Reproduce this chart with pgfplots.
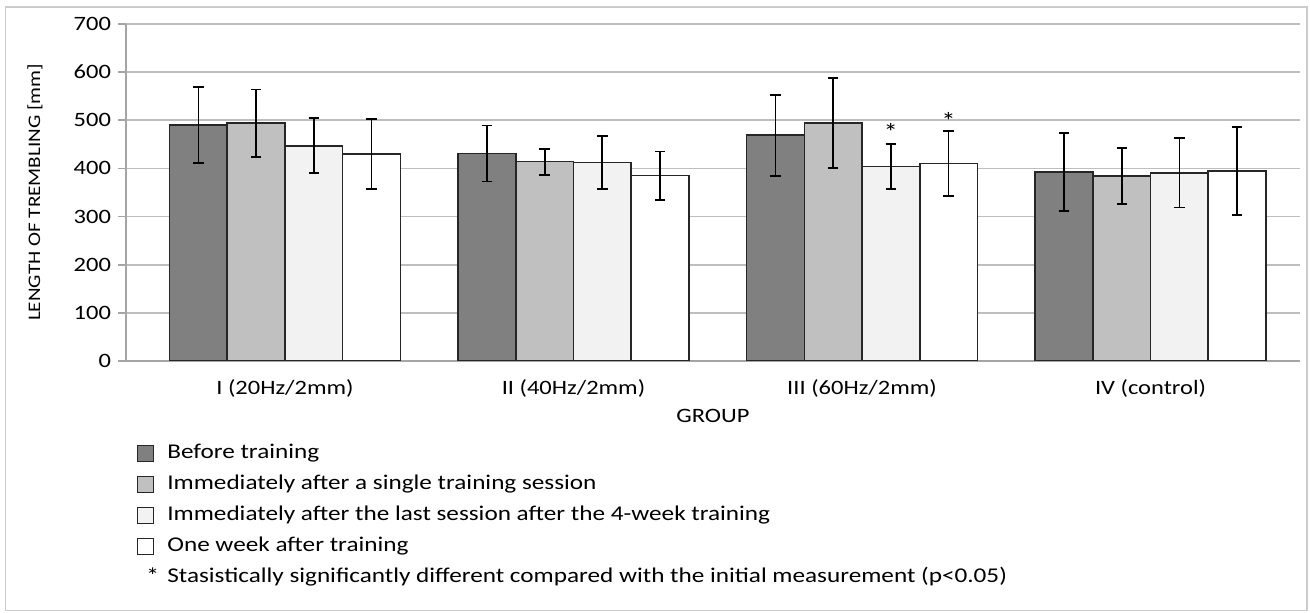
\documentclass[border=0pt]{standalone}
\usepackage{fontspec}
\setmainfont{Carlito}[FakeStretch=1.2]
\usepackage{pgfplots}
\pgfplotsset{compat=1.18}
\definecolor{cA}{RGB}{128,128,128}
\definecolor{cB}{RGB}{192,192,192}
\definecolor{cC}{RGB}{242,242,242}
\definecolor{cD}{RGB}{255,255,255}
\definecolor{gridc}{RGB}{190,190,190}
\definecolor{axc}{RGB}{165,165,165}
\pgfplotsset{
  mybar/.style={ybar, bar width=0.2, bar shift=0, fill=#1, draw=black!85, line width=0.8pt,
    legend image code/.code={\draw[##1, line width=0.7pt] (0pt,-4pt) rectangle (8pt,4pt);},
    error bars/y dir=both, error bars/y explicit,
    error bars/error bar style={black, line width=0.9pt},
    error bars/error mark options={black, line width=0.9pt, mark size=2.6pt, rotate=90}},
}
\begin{document}
\begin{tikzpicture}[x=1pt,y=1pt]
\path[use as bounding box] (0,0) rectangle (655,306.5);
\draw[gray!40, line width=0.7pt] (2.8,1.2) rectangle (653.5,303);
\begin{axis}[
  at={(63pt,126pt)}, anchor=south west, scale only axis,
  width=587pt, height=168.5pt,
  xmin=-0.551, xmax=3.518, ymin=0, ymax=700,
  ytick={0,100,...,700},
  xtick={0,1,2,3},
  xticklabels={I (20Hz/2mm), II (40Hz/2mm), III (60Hz/2mm), IV (control)},
  axis lines*=left,
  axis line style={-, axc, line width=0.9pt},
  ymajorgrids, grid style={gridc, line width=0.9pt},
  tick align=outside, major tick length=4pt,
  ytick style={axc, line width=0.9pt},
  xtick style={draw=none},
  tick label style={font=\fontsize{10.2}{12}\selectfont},
  /pgf/number format/assume math mode=true,
  xticklabel style={yshift=-2pt},
  xlabel={GROUP},
  xlabel style={at={(axis description cs:0.5,-0.163)}, anchor=center, font=\fontsize{10.2}{12}\selectfont},
  ylabel={LENGTH OF TREMBLING [mm]},
  ylabel style={at={(axis description cs:-0.0775,0.5)}, anchor=center, font=\fontsize{8.8}{10}\selectfont},
  legend style={draw=none, fill=none, at={(axis description cs:0.004,-0.232)}, anchor=north west,
    font=\fontsize{10.5}{13}\selectfont, row sep=5.5pt,
    nodes={inner sep=0pt, text height=7.6pt, text depth=2.4pt},
    /tikz/every odd column/.append style={column sep=4pt}},
  legend cell align=left,
]
\addplot[mybar=cA] coordinates {(-0.3,490) +- (0,79) (0.7,431) +- (0,58) (1.7,469) +- (0,84) (2.7,392) +- (0,81)};
\addlegendentry{Before training}
\addplot[mybar=cB] coordinates {(-0.1,494) +- (0,70) (0.9,414) +- (0,27) (1.9,494) +- (0,93) (2.9,384) +- (0,58)};
\addlegendentry{Immediately after a single training session}
\addplot[mybar=cC] coordinates {(0.1,447) +- (0,57) (1.1,412) +- (0,55) (2.1,404) +- (0,46) (3.1,391) +- (0,72)};
\addlegendentry{Immediately after the last session after the 4-week training}
\addplot[mybar=cD] coordinates {(0.3,430) +- (0,73) (1.3,385) +- (0,50) (2.3,410) +- (0,67) (3.3,395) +- (0,91)};
\addlegendentry{One week after training}
\addplot[forget plot, only marks, mark=text, text mark={*}, text mark as node=true,
  text mark style={font=\fontsize{12}{12}\selectfont, inner sep=0pt}] coordinates {(2.1,475) (2.3,498)};
\addlegendimage{legend image code/.code={\node[inner sep=0pt, font=\fontsize{11}{11}\selectfont] at (4pt,-0.5pt) {*};}}
\addlegendentry{Stasistically significantly different compared with the initial measurement (p<0.05)}
\end{axis}
\end{tikzpicture}
\end{document}
